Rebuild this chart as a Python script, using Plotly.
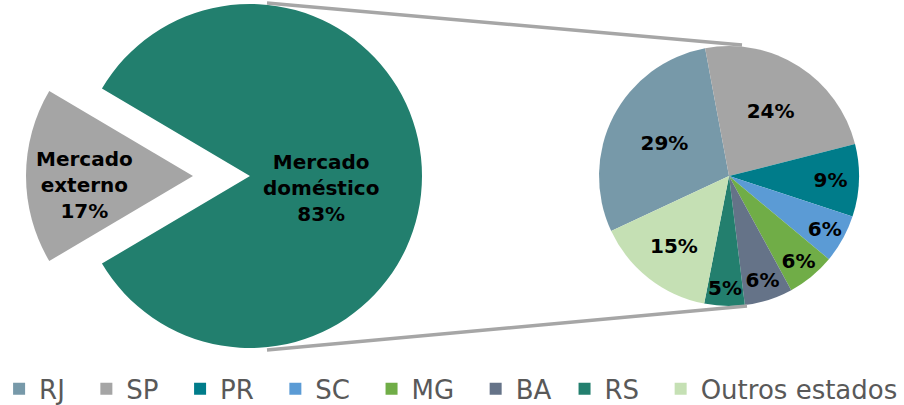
import plotly.graph_objects as go

W, H = 904, 405

# ---- data ----
main_labels = ["Mercado doméstico", "Mercado externo"]
main_values = [83, 17]
main_colors = ["#227F6E", "#A5A5A5"]

state_labels = ["RJ", "SP", "PR", "SC", "MG", "BA", "RS", "Outros estados"]
state_values = [29, 24, 9, 6, 6, 6, 5, 15]
state_colors = ["#7799A9", "#A5A5A5", "#007C8A", "#5B9BD5", "#70AD47",
                "#657388", "#237F6E", "#C5E0B4"]

# ---- geometry / style (pixels) ----
MAIN_C = (250, 176, 172)      # centre x, centre y, radius
EXT_C = (193, 176, 167)       # exploded slice
SUB_C = (729, 176, 130)
legend_pad = [2, 2, 2, 2, 2, 1, 2, 0]   # trailing spacing after each legend entry


def dom(c):
    cx, cy, r = c
    return dict(x=[(cx - r) / W, (cx + r) / W], y=[1 - (cy + r) / H, 1 - (cy - r) / H])


def px(x, y):
    return x / W, 1 - y / H


main_text = [f"{l.replace(' ', '<br>')}<br>{v}%" for l, v in zip(main_labels, main_values)]
ext_start = 270 + main_values[1] / sum(main_values) * 360 / 2

legend_labels = [l + "\u00a0" * p for l, p in zip(state_labels, legend_pad)]

label_font = dict(family="DejaVu Sans", size=20, color="black", weight="bold")

fig = go.Figure()

# domestic market (exploded slice left transparent)
fig.add_trace(go.Pie(
    labels=main_labels, values=main_values, sort=False, direction="clockwise",
    rotation=ext_start, domain=dom(MAIN_C),
    marker=dict(colors=[main_colors[0], "rgba(0,0,0,0)"], line=dict(width=0)),
    textinfo="none", showlegend=False, hoverinfo="label+percent",
))

# external market (exploded slice)
fig.add_trace(go.Pie(
    labels=main_labels, values=main_values, sort=False, direction="clockwise",
    rotation=ext_start, domain=dom(EXT_C),
    marker=dict(colors=["rgba(0,0,0,0)", main_colors[1]], line=dict(width=0)),
    textinfo="none", showlegend=False, hoverinfo="label+percent",
))

# states
fig.add_trace(go.Pie(
    labels=legend_labels, values=state_values, sort=False, direction="clockwise",
    rotation=245, domain=dom(SUB_C),
    marker=dict(colors=state_colors, line=dict(width=0)),
    texttemplate="%{percent:.0%}", textposition="inside",
    insidetextorientation="horizontal", textfont=label_font,
    showlegend=True,
))

# labels of the main pie slices
ax, ay = px(MAIN_C[0] + 0.41 * MAIN_C[2], MAIN_C[1] + 12)
fig.add_annotation(text=main_text[0], xref="paper", yref="paper", x=ax, y=ay,
                   xanchor="center", yanchor="middle",
                   showarrow=False, font=label_font, align="center")
ax, ay = px(EXT_C[0] - 0.65 * EXT_C[2], EXT_C[1] + 9)
fig.add_annotation(text=main_text[1], xref="paper", yref="paper", x=ax, y=ay,
                   xanchor="center", yanchor="middle",
                   showarrow=False, font=label_font, align="center")

# connector lines
line_style = dict(color="#A6A6A6", width=3.5)
x0, y0 = px(MAIN_C[0] + 17, MAIN_C[1] - MAIN_C[2] - 1)
x1, y1 = px(SUB_C[0] + 13, SUB_C[1] - SUB_C[2] - 1)
fig.add_shape(type="line", xref="paper", yref="paper", x0=x0, y0=y0, x1=x1, y1=y1, line=line_style)
x0, y0 = px(MAIN_C[0] + 17, MAIN_C[1] + MAIN_C[2] + 2)
x1, y1 = px(SUB_C[0] + 18, SUB_C[1] + SUB_C[2])
fig.add_shape(type="line", xref="paper", yref="paper", x0=x0, y0=y0, x1=x1, y1=y1, line=line_style)

fig.update_layout(
    width=W, height=H,
    margin=dict(l=0, r=0, t=0, b=0, autoexpand=False),
    paper_bgcolor="white", plot_bgcolor="white",
    uniformtext=dict(minsize=20, mode="show"),
    legend=dict(
        orientation="h", x=-0.001, xanchor="left", y=-0.018, yanchor="bottom",
        font=dict(family="DejaVu Sans", size=26, color="#595959"),
        itemclick=False, bgcolor="rgba(0,0,0,0)",
    ),
)

fig.write_html("out.html", config={"displayModeBar": False},
               post_script="document.body.style.margin='0';")
